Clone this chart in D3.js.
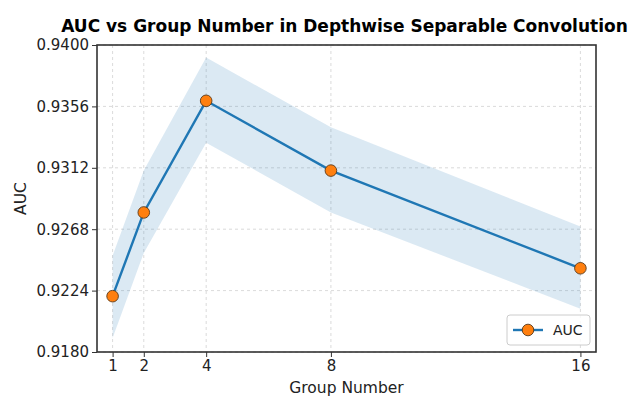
<!DOCTYPE html>
<html>
<head>
<meta charset="utf-8">
<script src="https://cdn.jsdelivr.net/npm/d3@7"></script>
<style>
  body { margin: 0; background: #fff; }
  text { font-family: "DejaVu Sans", sans-serif; }
</style>
</head>
<body>
<svg id="chart" width="632" height="396"></svg>
<script>
// data
const groups = [1, 2, 4, 8, 16];
const auc = [0.9220, 0.9280, 0.9360, 0.9310, 0.9240];
const aucLower = [0.9190, 0.9251, 0.9330, 0.9280, 0.9211];
const aucUpper = [0.9249, 0.9310, 0.9391, 0.9341, 0.9270];
const yTicks = [0.9180, 0.9224, 0.9268, 0.9312, 0.9356, 0.9400];

const width = 632, height = 396;
const margin = { top: 45, right: 36, bottom: 44, left: 97 };
const svg = d3.select('#chart');

const x = d3.scaleLinear().domain([0.5, 16.5]).range([margin.left, width - margin.right]);
const y = d3.scaleLinear().domain([0.918, 0.940]).range([height - margin.bottom, margin.top]);

const rows = groups.map((g, i) => ({ g, v: auc[i], lo: aucLower[i], hi: aucUpper[i] }));

// grid
const grid = svg.append('g')
  .attr('stroke', '#d0d0d0')
  .attr('stroke-width', 0.8)
  .attr('stroke-dasharray', '3,3');
grid.selectAll('line.v').data(groups).join('line')
  .attr('x1', d => x(d)).attr('x2', d => x(d))
  .attr('y1', margin.top).attr('y2', height - margin.bottom);
grid.selectAll('line.h').data(yTicks).join('line')
  .attr('x1', margin.left).attr('x2', width - margin.right)
  .attr('y1', d => y(d)).attr('y2', d => y(d));

// band
svg.append('path')
  .datum(rows)
  .attr('fill', '#1f77b4')
  .attr('fill-opacity', 0.16)
  .attr('d', d3.area().x(d => x(d.g)).y0(d => y(d.lo)).y1(d => y(d.hi)));

// line
svg.append('path')
  .datum(rows)
  .attr('fill', 'none')
  .attr('stroke', '#1f77b4')
  .attr('stroke-width', 2.4)
  .attr('d', d3.line().x(d => x(d.g)).y(d => y(d.v)));

svg.append('g').selectAll('circle').data(rows).join('circle')
  .attr('cx', d => x(d.g)).attr('cy', d => y(d.v))
  .attr('r', 5.8)
  .attr('fill', '#ff7f0e')
  .attr('stroke', '#5a3a1a')
  .attr('stroke-width', 0.9);

// axes
const xAxis = svg.append('g')
  .attr('transform', `translate(0,${height - margin.bottom})`)
  .call(d3.axisBottom(x).tickValues(groups).tickSize(5).tickPadding(3).tickFormat(d3.format('d')));
const yAxis = svg.append('g')
  .attr('transform', `translate(${margin.left},0)`)
  .call(d3.axisLeft(y).tickValues(yTicks).tickSize(5).tickPadding(3).tickFormat(d3.format('.4f')));
[xAxis, yAxis].forEach(a => {
  a.select('.domain').remove();
  a.selectAll('text').attr('font-size', 15).attr('fill', '#222').style('font-family', '"DejaVu Sans", sans-serif');
  a.selectAll('line').attr('stroke', '#333');
});

// frame
svg.append('rect')
  .attr('x', margin.left).attr('y', margin.top)
  .attr('width', width - margin.left - margin.right)
  .attr('height', height - margin.top - margin.bottom)
  .attr('fill', 'none')
  .attr('stroke', '#333')
  .attr('stroke-width', 1.6);

// labels
svg.append('text')
  .attr('x', (margin.left + width - margin.right) / 2 - 2).attr('y', 32)
  .attr('text-anchor', 'middle')
  .attr('font-size', 17).attr('font-weight', 'bold')
  .text('AUC vs Group Number in Depthwise Separable Convolution');

svg.append('text')
  .attr('x', (margin.left + width - margin.right) / 2).attr('y', 393)
  .attr('text-anchor', 'middle')
  .attr('font-size', 15.5).attr('fill', '#222')
  .text('Group Number');

svg.append('text')
  .attr('transform', `translate(26,${(margin.top + height - margin.bottom) / 2}) rotate(-90)`)
  .attr('text-anchor', 'middle')
  .attr('font-size', 15.5).attr('fill', '#222')
  .text('AUC');

// legend
const lg = svg.append('g').attr('transform', 'translate(507,315)');
lg.append('rect')
  .attr('width', 83).attr('height', 30).attr('rx', 3)
  .attr('fill', '#fff').attr('fill-opacity', 0.8)
  .attr('stroke', '#ccc');
lg.append('line')
  .attr('x1', 6).attr('x2', 36).attr('y1', 15).attr('y2', 15)
  .attr('stroke', '#1f77b4').attr('stroke-width', 2.4);
lg.append('circle')
  .attr('cx', 21).attr('cy', 15).attr('r', 5.8)
  .attr('fill', '#ff7f0e').attr('stroke', '#5a3a1a').attr('stroke-width', 0.9);
lg.append('text')
  .attr('x', 46).attr('y', 20)
  .attr('font-size', 14).attr('fill', '#222')
  .text('AUC');
</script>
</body>
</html>
